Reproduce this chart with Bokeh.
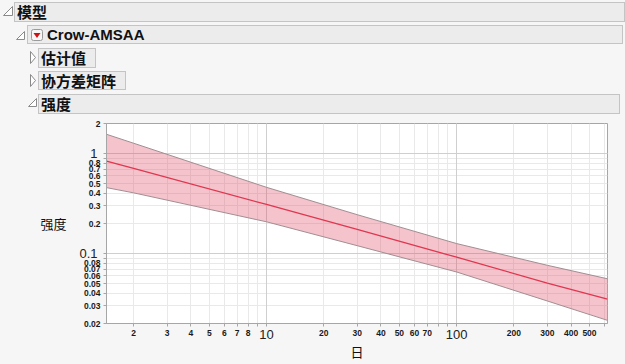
from bokeh.plotting import figure
from bokeh.layouts import column
from bokeh.models import FixedTicker, Grid, LogAxis, Range1d, Div
from bokeh.embed import file_html
from bokeh.resources import INLINE

# ---------------- data ----------------
days = [1.44, 2, 10, 30, 100, 300, 622]
intensity = [0.843, 0.713, 0.31, 0.175, 0.092, 0.0508, 0.0350]
lower = [0.457, 0.405, 0.208, 0.12, 0.0655, 0.0336, 0.0215]
upper = [1.56, 1.27, 0.46, 0.245, 0.126, 0.0764, 0.056]

x_ticks = [2, 3, 4, 5, 6, 7, 8, 10, 20, 30, 40, 50, 60, 70, 100, 200, 300, 400, 500]
x_tick_labels = ["2", "3", "4", "5", "6", "7", "8", "", "20", "30", "40", "50", "60", "70",
                 "", "200", "300", "400", "500"]
x_minor = [9, 80, 90, 600]
x_big = [10, 100]
x_big_labels = ["10", "100"]

y_ticks = [0.02, 0.03, 0.04, 0.05, 0.06, 0.07, 0.08, 0.1, 0.2, 0.3, 0.4, 0.5, 0.6, 0.7, 0.8, 1, 2]
y_tick_labels = ["0.02", "0.03", "0.04", "0.05", "0.06", "0.07", "0.08", "", "0.2", "0.3",
                 "0.4", "0.5", "0.6", "0.7", "0.8", "", "2"]
y_minor = [0.09, 0.9]
y_big = [0.1, 1]
y_big_labels = ["0.1", "1"]

outline_titles = ["模型", "Crow-AMSAA", "估计值", "协方差矩阵", "强度"]
x_title = "日"
y_title = "强度"

BG = "#f6f6f6"
HDR_FILL = "#ececec"
HDR_LINE = "#c4c4c4"
CJK = "Noto Sans CJK SC"
LAT = "Liberation Sans"

# ---------------- header (outline boxes, as HTML) ----------------
box_geo = [(14, 2, 625, 22), (27, 25, 623, 44), (38, 48, 96, 68), (38, 71, 126, 90), (38, 94, 620, 114)]
text_x = [17, 47, 41, 41, 41]
parts = []
for (l, t, r, b), tx, title in zip(box_geo, text_x, outline_titles):
    font = LAT if title.isascii() else CJK
    parts.append(
        f'<div style="position:absolute;left:{l}px;top:{t}px;width:{r - l}px;height:{b - t}px;'
        f'background:{HDR_FILL};border:1px solid {HDR_LINE};box-sizing:border-box;"></div>')
    yc = (t + b) / 2
    parts.append(
        f'<div style="position:absolute;left:{tx}px;top:{yc - 10}px;height:20px;line-height:20px;'
        f"font-family:'{font}';font-weight:bold;font-size:15px;color:#111;white-space:nowrap;\">"
        f'{title}</div>')
tri = "#8a8a8a"
svg = (
    '<svg width="625" height="120" style="position:absolute;left:0;top:0;" xmlns="http://www.w3.org/2000/svg">'
    f'<polygon points="3.5,15.5 12.5,15.5 12.5,6.5" fill="white" stroke="{tri}"/>'
    f'<polygon points="16.5,39.5 24.5,39.5 24.5,31.5" fill="white" stroke="{tri}"/>'
    f'<polygon points="30.5,51.5 35.5,57.5 30.5,63.5" fill="white" stroke="{tri}"/>'
    f'<polygon points="30.5,74.5 35.5,80.5 30.5,86.5" fill="white" stroke="{tri}"/>'
    f'<polygon points="28.5,106.5 36.5,106.5 36.5,98.5" fill="white" stroke="{tri}"/>'
    '<rect x="31.5" y="29.5" width="11" height="11" rx="2" fill="#f6f6f6" stroke="#9a9a9a"/>'
    '<polygon points="33.5,33 40.5,33 37,38" fill="#d01010"/>'
    '</svg>')
header = Div(text=f'<div style="position:relative;width:625px;height:120px;background:{BG};'
                  f'overflow:hidden;">{"".join(parts)}{svg}</div>',
             width=625, height=120, margin=0, styles={"background-color": BG})

# ---------------- main log-log plot ----------------
p = figure(width=625, height=244, x_axis_type="log", y_axis_type="log",
           x_range=Range1d(1.44, 622), y_range=Range1d(0.02, 2),
           toolbar_location=None, output_backend="svg", margin=0,
           min_border_left=106, min_border_right=18, min_border_top=3, min_border_bottom=41)
p.background_fill_color = "white"
p.border_fill_color = BG
p.outline_line_color = "#a6a6a6"

# grids
p.xgrid.ticker = FixedTicker(ticks=x_ticks + x_minor)
p.ygrid.ticker = FixedTicker(ticks=y_ticks + y_minor)
for g in (p.xgrid[0], p.ygrid[0]):
    g.grid_line_color = "#e9e9e9"
p.add_layout(Grid(dimension=0, ticker=FixedTicker(ticks=x_big), grid_line_color="#cfcfcf"))
p.add_layout(Grid(dimension=1, ticker=FixedTicker(ticks=y_big), grid_line_color="#cfcfcf"))

# inner axes: small labels
p.xaxis.ticker = FixedTicker(ticks=x_ticks, minor_ticks=x_minor)
p.yaxis.ticker = FixedTicker(ticks=y_ticks, minor_ticks=y_minor)
p.xaxis.major_label_overrides = {t: l for t, l in zip(x_ticks, x_tick_labels)}
p.yaxis.major_label_overrides = {t: l for t, l in zip(y_ticks, y_tick_labels)}
for ax in (p.xaxis[0], p.yaxis[0]):
    ax.axis_line_color = "#a6a6a6"
    ax.major_tick_line_color = "#a6a6a6"
    ax.minor_tick_line_color = "#a6a6a6"
    ax.major_tick_out = 3
    ax.major_tick_in = 0
    ax.minor_tick_out = 3
    ax.minor_tick_in = 0
    ax.major_label_standoff = 3
    ax.major_label_text_font = LAT
    ax.major_label_text_font_style = "bold"
    ax.major_label_text_font_size = "8.5px"
    ax.major_label_text_color = "#1a1a1a"

# outer axes: large decade labels, pulled back over the inner ones
big_x = LogAxis(ticker=FixedTicker(ticks=x_big),
                major_label_overrides={t: l for t, l in zip(x_big, x_big_labels)})
big_y = LogAxis(ticker=FixedTicker(ticks=y_big),
                major_label_overrides={t: l for t, l in zip(y_big, y_big_labels)})
for ax in (big_x, big_y):
    ax.axis_line_color = None
    ax.major_tick_line_color = None
    ax.minor_tick_line_color = None
    ax.major_tick_out = 0
    ax.major_tick_in = 0
    ax.major_label_text_font = LAT
    ax.major_label_text_font_size = "13px"
    ax.major_label_text_color = "#222222"
    ax.axis_label_text_font = CJK
    ax.axis_label_text_font_style = "normal"
    ax.axis_label_text_font_size = "13px"
    ax.axis_label_text_color = "#111111"
big_x.major_label_standoff = -9
big_y.major_label_standoff = -17
big_x.axis_label = x_title
big_y.axis_label = y_title
big_x.axis_label_standoff = 0
big_y.axis_label_standoff = 10
big_y.axis_label_orientation = "horizontal"
p.add_layout(big_x, "below")
p.add_layout(big_y, "left")

# confidence band and fitted intensity
p.varea(x=days, y1=lower, y2=upper, fill_color="#e0455f", fill_alpha=0.32)
p.line(days, upper, line_color="#a08e92", line_width=1)
p.line(days, lower, line_color="#a08e92", line_width=1)
p.line(days, intensity, line_color="#e0364f", line_width=1.3)

layout = column(header, p, spacing=0)
layout.styles = {"background-color": BG}
open("out.html", "w").write(file_html(layout, INLINE))
